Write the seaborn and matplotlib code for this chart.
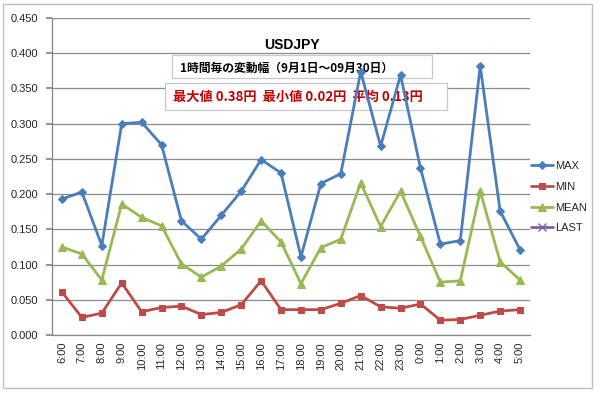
import numpy as np
import pandas as pd
import matplotlib
matplotlib.use("Agg")
import matplotlib.pyplot as plt
from matplotlib.patches import Rectangle
import seaborn as sns

hours = ["6:00", "7:00", "8:00", "9:00", "10:00", "11:00", "12:00", "13:00",
         "14:00", "15:00", "16:00", "17:00", "18:00", "19:00", "20:00", "21:00",
         "22:00", "23:00", "0:00", "1:00", "2:00", "3:00", "4:00", "5:00"]
max_vals = [0.193, 0.203, 0.127, 0.300, 0.302, 0.270, 0.162, 0.136,
            0.170, 0.204, 0.249, 0.230, 0.111, 0.215, 0.229, 0.374,
            0.268, 0.369, 0.237, 0.129, 0.134, 0.382, 0.176, 0.121]
min_vals = [0.061, 0.025, 0.031, 0.074, 0.033, 0.039, 0.041, 0.029,
            0.032, 0.043, 0.077, 0.036, 0.036, 0.036, 0.045, 0.056,
            0.040, 0.038, 0.044, 0.021, 0.022, 0.028, 0.034, 0.036]
mean_vals = [0.125, 0.115, 0.078, 0.186, 0.167, 0.155, 0.101, 0.082,
             0.098, 0.122, 0.162, 0.132, 0.073, 0.124, 0.136, 0.216,
             0.154, 0.204, 0.140, 0.075, 0.077, 0.204, 0.104, 0.078]
last_vals = [np.nan] * len(hours)

series_names = ["MAX", "MIN", "MEAN", "LAST"]
series_colors = ["#4A7EBB", "#BE4B48", "#98B954", "#7D60A0"]
series_markers = ["D", "s", "^", "x"]
title_text = "USDJPY"
box1_text = "1時間毎の変動幅（9月1日～09月30日）"
box2_text = "最大値 0.38円  最小値 0.02円  平均 0.13円"

sns.set_theme(style="white")
plt.rcParams["font.family"] = ["Liberation Sans", "DejaVu Sans"]

W, H = 600, 393
fig = plt.figure(figsize=(6.0, 3.93), dpi=100)
fig.patch.set_facecolor("white")

L, R, T, B = 52, 530, 18, 335
ax = fig.add_axes([L / W, 1 - B / H, (R - L) / W, (B - T) / H])
ax.set_facecolor("white")

x = np.arange(len(hours))
all_vals = [max_vals, min_vals, mean_vals, last_vals]
msizes = [4.5, 5.0, 5.5, 6.0]
for name, vals, c, m, ms in zip(series_names, all_vals, series_colors, series_markers, msizes):
    v = np.array(vals, dtype=float)
    if np.all(np.isnan(v)):
        ax.plot([], [], color=c, marker=m, lw=2.0, ms=ms, label=name)
    else:
        sns.lineplot(x=x, y=v, ax=ax, color=c, marker=m, markersize=ms,
                     markeredgecolor=c, linewidth=2.0, label=name, sort=False,
                     zorder=3)

ax.set_xlim(-0.5, len(hours) - 0.5)
ax.set_ylim(0, 0.45)
ax.set_yticks(np.arange(0, 0.4501, 0.05))
ax.set_yticklabels([f"{t:.3f}" for t in np.arange(0, 0.4501, 0.05)], fontsize=8)
ax.set_xticks(x)
ax.set_xticklabels(hours, rotation=90, fontsize=8)
ax.set_xticks(np.arange(-0.5, len(hours), 1), minor=True)
ax.tick_params(axis="x", which="major", length=0, pad=5)
ax.tick_params(axis="x", which="minor", length=4, color="#868686", direction="out")
ax.tick_params(axis="y", which="major", length=4, color="#868686", direction="out",
               left=True, pad=6)
ax.yaxis.grid(True, color="#8C8C8C", linewidth=0.9, zorder=0.5)
ax.xaxis.grid(False)
ax.set_axisbelow(True)
for s in ["top", "right"]:
    ax.spines[s].set_visible(False)
for s in ["left", "bottom"]:
    ax.spines[s].set_color("#868686")
    ax.spines[s].set_linewidth(0.9)
ax.set_xlabel("")
ax.set_ylabel("")

leg = ax.legend(loc="upper left", bbox_to_anchor=((531 - L) / (R - L), 1 - (161 - T) / (B - T)),
                frameon=False, fontsize=8, handlelength=2.0, handletextpad=0.2,
                labelspacing=0.97, borderaxespad=0, borderpad=0)

# chart area border
fig.add_artist(Rectangle((3 / W, 1 - 388 / H), 589 / W, 384 / H, transform=fig.transFigure,
                         fill=False, edgecolor="#BFBFBF", linewidth=1.0))

ax.text(292 / W, 1 - 45 / H, title_text, ha="center", va="center", transform=fig.transFigure,
        fontsize=10, fontweight="bold", color="#000000", zorder=1.5)

ax.add_patch(Rectangle((172 / W, 1 - 78 / H), 260 / W, 23 / H, transform=fig.transFigure,
                       facecolor="white", edgecolor="#C8C8C8", linewidth=0.9,
                       zorder=1.4, clip_on=False))
ax.text(180 / W, 1 - 68 / H, box1_text, ha="left", va="center", fontsize=8.5,
        transform=fig.transFigure, zorder=1.5,
        fontweight="bold", color="#000000", family=["Noto Sans CJK JP", "DejaVu Sans"])

ax.add_patch(Rectangle((165 / W, 1 - 110 / H), 282 / W, 27 / H, transform=fig.transFigure,
                       facecolor="white", edgecolor="#C8C8C8", linewidth=0.9,
                       zorder=1.4, clip_on=False))
ax.text(173 / W, 1 - 97 / H, box2_text, ha="left", va="center", fontsize=9.5,
        transform=fig.transFigure, zorder=1.5,
        fontweight="bold", color="#C00000", family=["Noto Sans CJK JP", "DejaVu Sans"])

fig.savefig("out.png", dpi=100, facecolor="white")
